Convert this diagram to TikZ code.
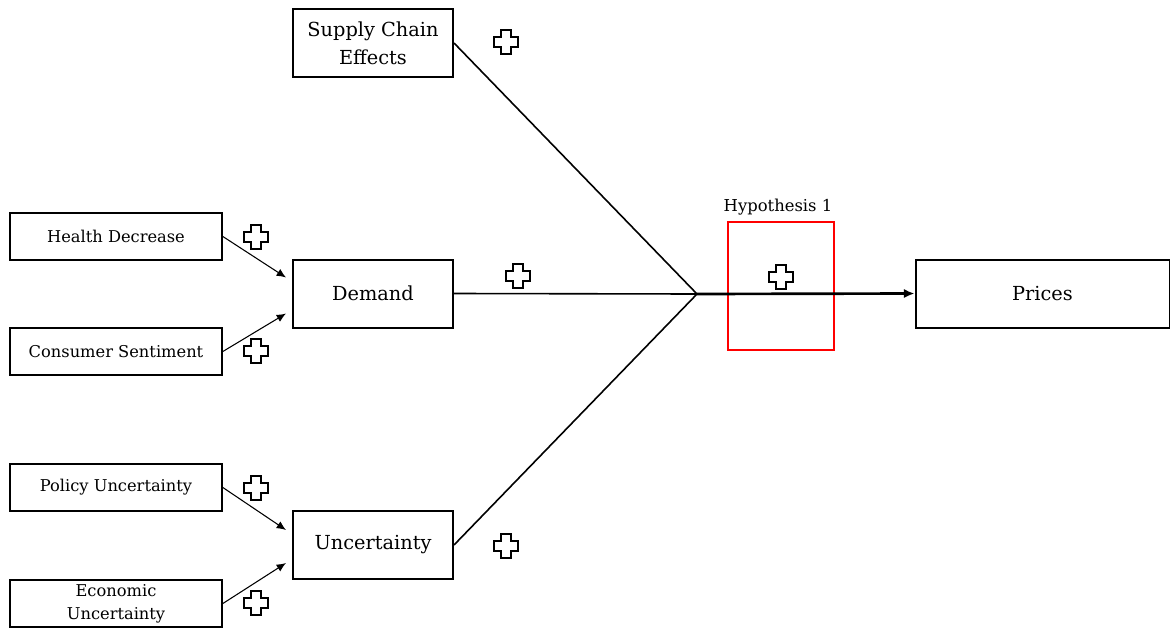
\documentclass[tikz,border=0pt]{standalone}
\usepackage{fontspec}
\setmainfont{DejaVu Serif}
\usetikzlibrary{arrows.meta}
\tikzstyle{bigbox} = [draw=black, line width=1.5pt, rectangle,
    minimum width=120pt, minimum height=51pt, inner sep=0pt,
    align=center, font=\fontsize{14.5}{21}\selectfont]
\tikzstyle{smallbox} = [draw=black, line width=1.3pt, rectangle,
    minimum width=159pt, minimum height=35.25pt, inner sep=0pt,
    align=center, font=\fontsize{12.2}{17}\selectfont]
\tikzstyle{hypbox} = [draw=red, line width=1.2pt, rectangle,
    minimum width=79.5pt, minimum height=96pt, inner sep=0pt]
\tikzstyle{feedarrow} = [line width=0.8pt, -{Latex[length=7pt,width=6pt]}]
\tikzstyle{mainline} = [line width=1.2pt]
\tikzset{plussign/.pic={
    \draw[line width=1.8pt, fill=white]
        (-5,-12) -- (5,-12) -- (5,-5) -- (12,-5) -- (12,5)
        -- (5,5) -- (5,12) -- (-5,12) -- (-5,5) -- (-12,5)
        -- (-12,-5) -- (-5,-5) -- cycle;
}}

\begin{document}
\begin{tikzpicture}[x=0.75pt, y=-0.75pt]
    \useasboundingbox (0,0) rectangle (1170,628);
    % drivers
    \node[bigbox] (supply) at (373,43) {Supply Chain\\Effects};
    \node[bigbox] (demand) at (373,293.5) {Demand};
    \node[bigbox] (uncert) at (373,545) {Uncertainty};
    \node[bigbox, minimum width=190.5pt] (prices) at (1042.5,293.5) {Prices};
    % sub-drivers
    \node[smallbox] (health) at (116,236.5) {Health Decrease};
    \node[smallbox] (consumer) at (116,351.5) {Consumer Sentiment};
    \node[smallbox] (policy) at (116,487.5) {Policy Uncertainty};
    \node[smallbox] (economic) at (116,603.5) {Economic\\Uncertainty};
    % hypothesis
    \node[hypbox] (hyp) at (781,286) {};
    \node[font=\fontsize{12.3}{14}\selectfont] (hyplabel) at (778,207) {Hypothesis 1};
    \coordinate (junction) at (697,294);

    \draw[feedarrow] (health.east) -- ([shift={(-6,-16)}]demand.west);
    \draw[feedarrow] (consumer.east) -- ([shift={(-6,20)}]demand.west);
    \draw[feedarrow] (policy.east) -- ([shift={(-6,-15)}]uncert.west);
    \draw[feedarrow] (economic.east) -- ([shift={(-6,18)}]uncert.west);

    \draw[mainline] (supply.east) -- (junction);
    \draw[mainline] (demand.east) -- (junction);
    \draw[mainline] (uncert.east) -- (junction);
    \draw[line width=2pt, -{Latex[length=8pt,width=7pt]}] (junction) -- (prices.west);

    % plus signs
    \foreach \p in {(506,42),(256,237),(518,276),(256,351),(256,488),(506,546),(256,603),(781,277)}
        \pic at \p {plussign};
\end{tikzpicture}
\end{document}
